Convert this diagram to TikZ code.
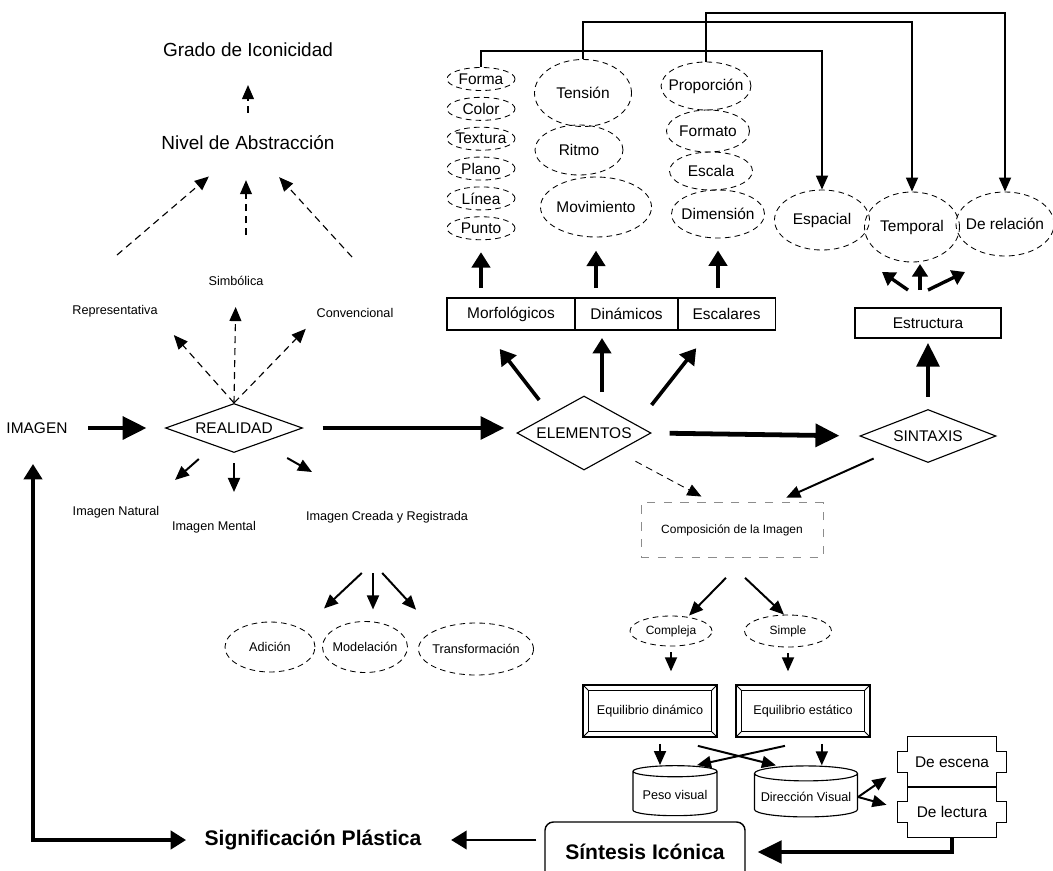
\documentclass[tikz,border=0pt]{standalone}
\usepackage{fontspec}
\setmainfont{Liberation Sans}
\usepackage{tikz}
\usetikzlibrary{arrows.meta, positioning, shapes.geometric}

\newcommand{\notchframe}[1]{%
	\draw[line width=1pt] ([xshift=2.5mm]#1.north west) -- ([xshift=-2.5mm]#1.north east)
		-- ++(0,-3.75mm) -- ++(2.5mm,0) -- ([yshift=3.75mm]#1.south east) -- ++(-2.5mm,0)
		-- ([xshift=-2.5mm]#1.south east) -- ([xshift=2.5mm]#1.south west) -- ++(0,3.75mm)
		-- ++(-2.5mm,0) -- ([yshift=-3.75mm]#1.north west) -- ++(2.5mm,0) -- cycle;}

\begin{document}
\begin{tikzpicture}[
		x=0.025cm, y=-0.025cm,
		lblSmall/.style={inner sep=1pt, font=\fontsize{9}{11}\selectfont},
		lblMid/.style={inner sep=1pt, font=\fontsize{11}{13}\selectfont},
		lblBig/.style={inner sep=1pt, font=\fontsize{13.5}{16}\selectfont},
		lblBold/.style={inner sep=1pt, font=\fontsize{15}{18}\selectfont\bfseries},
		dashEll/.style={ellipse, draw, line width=0.6pt, dash pattern=on 4pt off 3pt,
			inner xsep=-4pt, inner ysep=0pt, font=\fontsize{11}{13}\selectfont},
		colEll/.style={dashEll, minimum width=1.7cm, minimum height=0.575cm},
		smallEll/.style={dashEll, font=\fontsize{9}{11}\selectfont},
		diam/.style={diamond, draw, line width=0.8pt, inner sep=0pt, font=\fontsize{11}{13}\selectfont},
		rowBox/.style={rectangle, draw, line width=0.8pt, outer sep=0pt, minimum height=0.8cm,
			font=\fontsize{11}{13}\selectfont},
		bevelBox/.style={rectangle, draw, line width=1.2pt, minimum width=3.35cm, minimum height=1.3cm,
			font=\fontsize{9}{11}\selectfont,
			path picture={
				\draw[line width=0.8pt] ([shift={(0.13cm,-0.13cm)}]path picture bounding box.north west)
					rectangle ([shift={(-0.13cm,0.13cm)}]path picture bounding box.south east);
				\draw[line width=0.6pt] (path picture bounding box.north west) -- ++(0.13cm,-0.13cm)
					(path picture bounding box.north east) -- ++(-0.13cm,-0.13cm)
					(path picture bounding box.south west) -- ++(0.13cm,0.13cm)
					(path picture bounding box.south east) -- ++(-0.13cm,0.13cm);
			}},
		drum/.style={cylinder, shape border rotate=90, draw, line width=0.8pt, aspect=0.15,
			font=\fontsize{9}{11}\selectfont},
		notchBox/.style={rectangle, minimum width=2.7cm, minimum height=1.25cm, font=\fontsize{11}{13}\selectfont},
		heavyArrow/.style={line width=3.4pt, -{Triangle[length=17pt, width=16pt]}},
		boldArrow/.style={line width=2.6pt, -{Triangle[length=11pt, width=13pt]}},
		thinArrow/.style={line width=1.4pt, -{Triangle[length=10pt, width=8.5pt]}},
		dashArrow/.style={line width=0.8pt, dash pattern=on 5pt off 3.5pt, -{Triangle[length=10pt, width=8.5pt]}}
		]
		
		\useasboundingbox (0,0) rectangle (1053,870);
		
		\node[lblBig] (grado) at (248,50) {Grado de Iconicidad};
		\node[lblBig] (niv) at (248,143) {Nivel de Abstracción};
		\node[lblSmall] (simb) at (236,281) {Simbólica};
		\node[lblSmall] (rep) at (115,311) {Representativa};
		\node[lblSmall] (conv) at (355,313) {Convencional};
		
		\node[lblMid] (img) at (37,428) {IMAGEN};
		\node[diam, aspect=2.8, minimum width=3.425cm, minimum height=1.225cm] (real) at (234,428) {REALIDAD};
		\node[diam, aspect=1.8, minimum width=3.35cm, minimum height=1.85cm] (ele) at (584,433) {ELEMENTOS};
		\node[diam, aspect=2.57, minimum width=3.4cm, minimum height=1.325cm] (sin) at (928,436) {SINTAXIS};
		
		\node[lblSmall] (nat) at (116,512) {Imagen Natural};
		\node[lblSmall] (ment) at (214,527) {Imagen Mental};
		\node[lblSmall] (icr) at (387,517) {Imagen Creada y Registrada};
		
		\node[smallEll, minimum width=2.25cm, minimum height=1.25cm] (adi) at (270,647) {Adición};
		\node[smallEll, minimum width=2.125cm, minimum height=1.275cm] (mod) at (365,647) {Modelación};
		\node[smallEll, minimum width=2.875cm, minimum height=1.3cm] (tra) at (476,649) {Transformación};
		
		\node[rowBox, minimum width=3.2cm] (morf) at (511,314) {Morfológicos};
		\node[rowBox, minimum width=2.575cm, right=0pt of morf] (din) {Dinámicos};
		\node[rowBox, minimum width=2.425cm, right=0pt of din] (escBox) {Escalares};
		
		\node[colEll] (forma) at (481,79) {Forma};
		\node[colEll, below=0.15cm of forma] (color) {Color};
		\node[colEll, below=0.15cm of color] (textura) {Textura};
		\node[colEll, below=0.15cm of textura] (plano) {Plano};
		\node[colEll, below=0.15cm of plano] (linea) {Línea};
		\node[colEll, below=0.15cm of linea] (punto) {Punto};
		
		\node[dashEll, minimum width=2.425cm, minimum height=1.675cm] (tens) at (583,93) {Tensión};
		\node[dashEll, minimum width=2.2cm, minimum height=1.25cm] (ritmo) at (579,150) {Ritmo};
		\node[dashEll, minimum width=2.775cm, minimum height=1.5cm] (mov) at (596,207) {Movimiento};
		
		\node[dashEll, minimum width=2.2cm, minimum height=1.2cm] (prop) at (706,86) {Proporción};
		\node[dashEll, minimum width=2.075cm, minimum height=1.05cm] (formato) at (708,131) {Formato};
		\node[dashEll, minimum width=2.075cm, minimum height=0.95cm] (escala) at (711,171) {Escala};
		\node[dashEll, minimum width=2.325cm, minimum height=1.2cm] (dim) at (718,214) {Dimensión};
		
		\node[dashEll, minimum width=2.375cm, minimum height=1.5cm] (esp) at (822,220) {Espacial};
		\node[dashEll, minimum width=2.375cm, minimum height=1.75cm] (temp) at (912,227) {Temporal};
		\node[dashEll, minimum width=2.45cm, minimum height=1.6cm] (rel) at (1005,224) {De relación};
		
		\node[rowBox, minimum width=3.65cm, minimum height=0.75cm] (est) at (928,323) {Estructura};
		
		\node[lblSmall, draw=black!45, dash pattern=on 6pt off 6pt, minimum width=4.55cm, minimum height=1.375cm,
			font=\fontsize{8.5}{10}\selectfont] (comp) at (732,530) {Composición de la Imagen};
		\node[smallEll, minimum width=2.05cm, minimum height=0.75cm, font=\fontsize{8.5}{10}\selectfont] (compl) at (671,631) {Compleja};
		\node[smallEll, minimum width=2.175cm, minimum height=0.8cm, font=\fontsize{8.5}{10}\selectfont] (simp) at (788,631) {Simple};
		
		\node[bevelBox] (eqd) at (650,711) {Equilibrio dinámico};
		\node[bevelBox] (eqe) at (803,711) {Equilibrio estático};
		
		\node[drum, minimum width=2.1cm, minimum height=1.25cm] (peso) at (675,795) {Peso visual};
		\node[drum, minimum width=2.575cm, minimum height=1.275cm] (dir) at (806,797) {Dirección Visual};
		
		\node[notchBox] (escena) at (952,762) {De escena};
		\node[notchBox] (lectura) at (952,812) {De lectura};
		\notchframe{escena}
		\notchframe{lectura}
		
		\node[lblBold, draw, rounded corners=6pt, line width=1pt, minimum width=5cm, minimum height=1.5cm] (sint) at (645,852) {Síntesis Icónica};
		\node[lblBold] (sig) at (313,840) {Significación Plástica};
		
		\coordinate (repUp) at (117,255);
		\coordinate (simUp) at (246,235);
		\coordinate (conUp) at (352,257);
		\draw [dashArrow, shorten <=0.54cm, shorten >=0.66cm] (niv) -- (grado);
		\draw [dashArrow, shorten >=0.95cm] (repUp) -- (niv);
		\draw [dashArrow, shorten >=0.71cm] (simUp) -- (simUp |- niv.south);
		\draw [dashArrow, shorten >=0.86cm] (conUp) -- (niv);
		\draw [dashArrow, shorten >=0.55cm] (real.north) -- (rep.south east);
		\draw [dashArrow, shorten >=0.49cm] (real.north) -- (simb.south);
		\draw [dashArrow, shorten >=0.33cm] (real.north) -- (conv.south west);
		
		\draw [heavyArrow, shorten <=0.48cm, shorten >=0.46cm] (img) -- (real);
		\draw [heavyArrow, shorten <=0.49cm, shorten >=0.3cm] (real.east) -- (real.east -| ele.west);
		\draw [heavyArrow, shorten <=0.45cm, shorten >=0.5cm] (ele.east) -- (sin.west);
		\draw [heavyArrow, shorten <=0.3cm, shorten >=0.12cm] (sin.north) -- (est.south);
		
		\coordinate (natTip) at (175,480);
		\coordinate (mentTip) at (234,492);
		\coordinate (icrTip) at (312,472);
		\draw [thinArrow, shorten <=0.5cm] (real) -- (natTip);
		\draw [thinArrow, shorten <=0.26cm] (real) -- (mentTip);
		\draw [thinArrow, shorten <=0.75cm] (real) -- (icrTip);
		
		\coordinate (icrFan) at (373,573);
		\draw [thinArrow, shorten >=0.75cm] ([xshift=-0.28cm]icrFan) -- (adi.north east);
		\draw [thinArrow, shorten >=0.29cm] (icrFan) -- (icrFan |- mod.north);
		\draw [thinArrow, shorten >=0.7cm] ([xshift=0.23cm]icrFan) -- (tra.north west);
		
		\draw [boldArrow, shorten <=0.45cm, shorten >=0.6cm] (ele.north west) -- ([xshift=-0.65cm]morf.south);
		\draw [boldArrow, shorten <=0.08cm, shorten >=0.2cm] ([xshift=0.45cm]ele.north) -- ([xshift=0.45cm]ele.north |- din.south);
		\draw [boldArrow, shorten >=0.58cm] ([yshift=0.7cm]ele.east) -- ([xshift=-0.4cm]escBox.south);
		
		\draw [boldArrow, shorten <=0.25cm, shorten >=0.3cm] (morf.north -| punto.south) -- (punto.south);
		\draw [boldArrow, shorten <=0.25cm, shorten >=0.33cm] (din.north -| mov.south) -- (mov.south);
		\draw [boldArrow, shorten <=0.25cm, shorten >=0.3cm] (escBox.north -| dim.south) -- (dim.south);
		
		\draw [thinArrow] (forma.north) -- ++(0,-16) -| (esp.north);
		\draw [thinArrow] (tens.north) -- ++(0,-37) -| (temp.north);
		\draw [thinArrow] (prop.north) -- ++(0,-49) -| (rel.north);
		
		\coordinate (espUp) at (882,272);
		\coordinate (tempUp) at (920,264);
		\coordinate (relUp) at (965,272);
		\draw [line width=2.4pt, -{Triangle[length=9pt, width=11pt]}] ([shift={(-20,-18)}]est.north) -- (espUp);
		\draw [line width=2.4pt, -{Triangle[length=9pt, width=11pt]}] ([shift={(-8,-18)}]est.north) -- (tempUp);
		\draw [line width=2.4pt, -{Triangle[length=9pt, width=11pt]}] ([shift={(0,-18)}]est.north) -- (relUp);
		
		\draw [dashArrow, line width=0.6pt, shorten <=0.5cm, shorten >=0.3cm] (ele.south east) -- ([xshift=-0.5cm]comp.north);
		\draw [thinArrow, shorten <=0.55cm, shorten >=0.28cm] (sin.south west) -- ([xshift=1.1cm]comp.north);
		
		\draw [thinArrow] ([shift={(-6,20)}]comp.south) -- ([xshift=0.45cm]compl.north);
		\draw [thinArrow] ([shift={(13,20)}]comp.south) -- ([xshift=-0.1cm]simp.north);
		\draw [thinArrow, shorten <=0.15cm, shorten >=0.32cm] (compl.south) -- (compl.south |- eqd.north);
		\draw [thinArrow, shorten <=0.15cm, shorten >=0.32cm] (simp.south) -- (simp.south |- eqe.north);
		
		\draw [thinArrow, shorten <=0.15cm] ([xshift=0.25cm]eqd.south) -- ([xshift=0.25cm]eqd.south |- peso.north);
		\draw [thinArrow, shorten <=0.15cm] ([xshift=0.47cm]eqe.south) -- ([xshift=0.47cm]eqe.south |- dir.north);
		\draw [thinArrow] ([xshift=-0.5cm, yshift=-0.2cm]eqd.south east) -- ([xshift=-0.75cm]dir.north);
		\draw [thinArrow] ([xshift=-0.45cm, yshift=-0.2cm]eqe.south) -- ([xshift=0.55cm]peso.north);
		
		\draw [thinArrow] (dir.east) -- ([xshift=-0.28cm, yshift=0.25cm]escena.south west);
		\draw [thinArrow] (dir.east) -- ([xshift=-0.28cm, yshift=0.18cm]lectura.west);
		
		\draw [heavyArrow, line width=2.6pt, shorten >=0.3cm] (lectura.south) |- (sint.east);
		\draw [boldArrow, line width=2pt, shorten <=0.2cm, shorten >=0.7cm] (sint.west |- sig.east) -- (sig.east);
		\draw [boldArrow, {Triangle[length=11pt, width=13pt]}-{Triangle[length=11pt, width=13pt]},
			shorten <=0.72cm, shorten >=0.42cm] ([xshift=-0.1cm]img.south) |- (sig.west);
	\end{tikzpicture}
\end{document}
